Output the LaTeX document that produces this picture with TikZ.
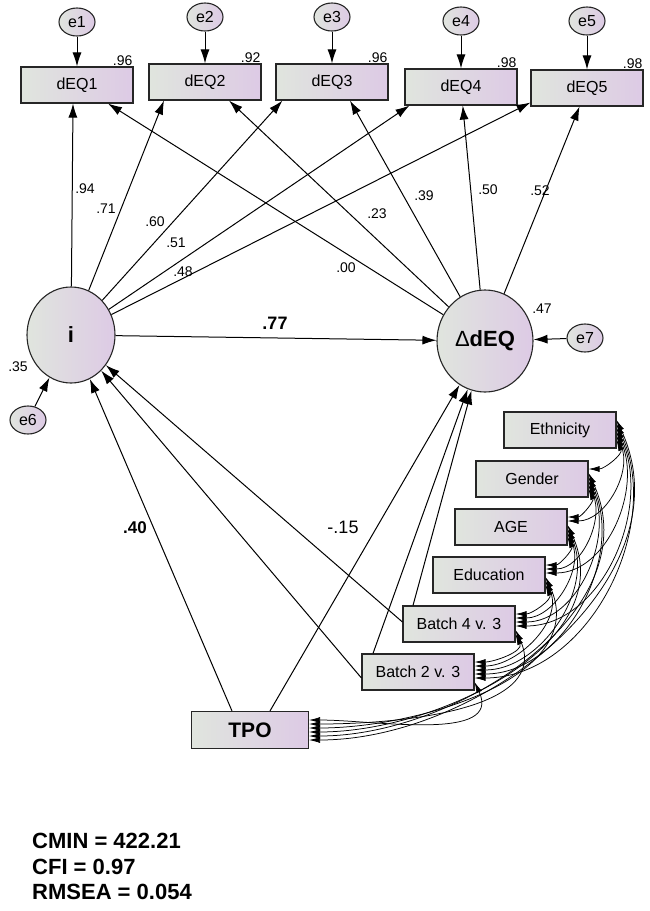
\documentclass[tikz,border=0pt]{standalone}
\usepackage{fontspec}
\setmainfont{Liberation Sans}
\usetikzlibrary{arrows.meta,shapes.geometric}
\definecolor{varleft}{RGB}{224,229,222}
\definecolor{varright}{RGB}{221,202,229}

\tikzset{
    obs/.style={draw=black!85, line width=1.1pt, left color=varleft, right color=varright,
        minimum width=112pt, minimum height=36pt, inner sep=0pt, font=\fontsize{16}{16}\selectfont},
    lat/.style={ellipse, draw=black!85, line width=1.1pt, left color=varleft, right color=varright,
        inner sep=0pt, font=\bfseries\fontsize{22}{22}\selectfont},
    err/.style={ellipse, draw=black!85, line width=1.1pt, left color=varleft, right color=varright,
        minimum width=36pt, minimum height=28pt, inner sep=0pt, font=\fontsize{16}{16}\selectfont},
    coef/.style={inner sep=1pt, font=\fontsize{14}{14}\selectfont},
    path/.style={-{Latex[length=14pt,width=9pt]}, line width=1pt},
    cov/.style={{Latex[length=11pt,width=6pt]}-{Latex[length=11pt,width=6pt]}, line width=0.75pt}
}

\begin{document}
\begin{tikzpicture}[x=1pt,y=-1pt]
    \useasboundingbox (0,0) rectangle (650,911);

    \node[obs] (dEQ1) at (77,85) {dEQ1};
    \node[obs] (dEQ2) at (205,82) {dEQ2};
    \node[obs] (dEQ3) at (332,82) {dEQ3};
    \node[obs] (dEQ4) at (461,87) {dEQ4};
    \node[obs] (dEQ5) at (587,88) {dEQ5};
    \node[err] (e1) at (77,22) {e1};
    \node[err] (e2) at (205,17) {e2};
    \node[err] (e3) at (332,17) {e3};
    \node[err] (e4) at (461,21) {e4};
    \node[err] (e5) at (587,21) {e5};
    \foreach \n/\r in {1/.96,2/.92,3/.96,4/.98,5/.98}
        \node[coef, anchor=south east] (r\n) at (dEQ\n.north east) {\r};

    \node[lat, minimum width=88pt, minimum height=96pt] (i) at (71,335) {i};
    \node[lat, minimum width=96pt, minimum height=102pt] (dEQ) at (485,341) {{\mdseries Δ}dEQ};
    \node[err] (e6) at (28,420) {e6};
    \node[err] (e7) at (585,338) {e7};

    \node[obs] (Eth) at (560,430) {Ethnicity};
    \node[obs] (Gen) at (532,479) {Gender};
    \node[obs] (AGE) at (511,527) {AGE};
    \node[obs] (Edu) at (489,575) {Education};
    \node[obs] (B4) at (459,624) {Batch 4 v. 3};
    \node[obs] (B2) at (418,672) {Batch 2 v. 3};
    \node[obs, minimum width=117pt, minimum height=37pt, font=\bfseries\fontsize{21}{21}\selectfont] (TPO) at (250,730) {TPO};

    \foreach \n in {1,...,5}
        \draw[path] (e\n) -- (dEQ\n);
    \draw[path] (i) -- ([xshift=-4pt]dEQ1.south);
    \draw[path] (i) -- ([xshift=-41pt]dEQ2.south);
    \draw[path] (i) -- ([xshift=7pt]dEQ3.south west);
    \draw[path] (i) -- ([xshift=5pt]dEQ4.south west);
    \draw[path] (i) -- ([yshift=4pt]dEQ5.south west);
    \draw[path] (dEQ) -- ([xshift=31pt]dEQ1.south);
    \draw[path] (dEQ) -- ([xshift=24pt]dEQ2.south);
    \draw[path] (dEQ) -- ([xshift=18pt]dEQ3.south);
    \draw[path] (dEQ) -- (dEQ4);
    \draw[path] (dEQ) -- (dEQ5);
    \draw[path] (i) -- (dEQ);
    \draw[path] (e6) -- (i);
    \draw[path] (e7) -- (dEQ);
    \draw[path] ([xshift=-18pt]TPO.north) -- (i);
    \draw[path] ([xshift=20pt]TPO.north) -- (dEQ);
    \draw[path] ([yshift=-6pt]B2.west) -- (i);
    \draw[path] ([xshift=-45pt]B2.north) -- (dEQ);
    \draw[path] ([yshift=2pt]B4.west) -- (i);
    \draw[path] ([xshift=-46pt]B4.north) -- (dEQ);

    \foreach \a/\ia in {TPO/1,B2/2,B4/3,Edu/4,AGE/5,Gen/6}
        \foreach \b/\ib in {B2/2,B4/3,Edu/4,AGE/5,Gen/6,Eth/7} {
            \ifnum\ib>\ia
                \pgfmathsetmacro\sa{10-4*(\ib-\ia-1)}
                \pgfmathsetmacro\sb{-10+4*(\ib-\ia-1)}
                \draw[cov] ([yshift=\sa pt]\a.east) to[out=0,in=-65] ([yshift=\sb pt]\b.east);
            \fi
        };

    \node[coef] (c1) at (85,189) {.94};
    \node[coef] (c2) at (106,209) {.71};
    \node[coef] (c3) at (155,222) {.60};
    \node[coef] (c4) at (176,243) {.51};
    \node[coef] (c5) at (183,272) {.48};
    \node[coef] (c6) at (346,268) {.00};
    \node[coef] (c7) at (377,214) {.23};
    \node[coef] (c8) at (424,196) {.39};
    \node[coef] (c9) at (488,190) {.50};
    \node[coef] (c10) at (540,191) {.52};
    \node[coef] (c11) at (542,309) {.47};
    \node[coef] (c12) at (18,367) {.35};
    \node[coef, font=\bfseries\fontsize{18}{18}\selectfont] (c13) at (275,323) {.77};
    \node[coef, font=\bfseries\fontsize{17}{17}\selectfont] (c14) at (135,528) {.40};
    \node[coef, font=\fontsize{18}{18}\selectfont] (c15) at (343,527) {-.15};

    \node[anchor=north west, align=left, inner sep=0pt, font=\bfseries\fontsize{22}{25.5}\selectfont] (fit) at (32,833)
        {CMIN = 422.21\\CFI = 0.97\\RMSEA = 0.054};
\end{tikzpicture}
\end{document}
